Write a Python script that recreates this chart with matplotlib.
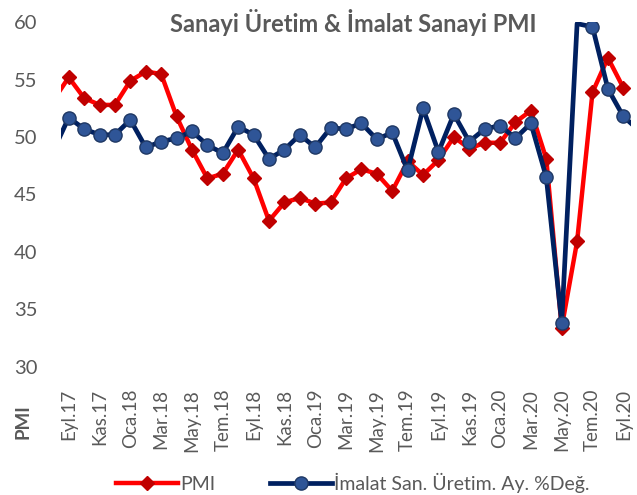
import matplotlib
matplotlib.use("Agg")
import matplotlib.pyplot as plt
import numpy as np

plt.rcParams['font.family'] = ['Lato', 'DejaVu Sans']

# aylar: Ağu.17 (-1) ... Eki.20 (37), eksen Eyl.17 - Eyl.20 arasini gosteriyor
months = ["Ağu.17", "Eyl.17", "Eki.17", "Kas.17", "Ara.17",
          "Oca.18", "Şub.18", "Mar.18", "Nis.18", "May.18", "Haz.18",
          "Tem.18", "Ağu.18", "Eyl.18", "Eki.18", "Kas.18", "Ara.18",
          "Oca.19", "Şub.19", "Mar.19", "Nis.19", "May.19", "Haz.19",
          "Tem.19", "Ağu.19", "Eyl.19", "Eki.19", "Kas.19", "Ara.19",
          "Oca.20", "Şub.20", "Mar.20", "Nis.20", "May.20", "Haz.20",
          "Tem.20", "Ağu.20", "Eyl.20", "Eki.20"]

pmi = [53.2, 55.2, 53.4, 52.8, 52.8, 54.9, 55.7, 55.5, 51.8, 48.9,
       46.4, 46.8, 48.9, 46.4, 42.7, 44.3, 44.7, 44.2, 44.3, 46.4,
       47.2, 46.8, 45.3, 47.9, 46.7, 48.0, 50.0, 49.0, 49.5, 49.5,
       51.3, 52.3, 48.1, 33.4, 40.9, 53.9, 56.9, 54.3]

uretim = [48.8, 51.7, 50.7, 50.2, 50.2, 51.5, 49.1, 49.6, 49.9, 50.5,
          49.3, 48.6, 50.9, 50.2, 48.1, 48.9, 50.2, 49.1, 50.8, 50.7,
          51.2, 49.8, 50.4, 47.1, 52.5, 48.7, 52.0, 49.6, 50.7, 51.0,
          49.9, 51.2, 46.5, 33.8, 65.0, 59.6, 54.2, 51.8, 50.6]

tick_labels = months[1:38:2]

gray = "#595959"
ymax = 60

fig = plt.figure(figsize=(6.37, 4.95), dpi=100)
ax = fig.add_axes([0.0958, 0.2594, 0.8948, 0.6956])

x_pmi = np.arange(-1, len(pmi) - 1)
x_ur = np.arange(-1, len(uretim) - 1)

# Excel gibi: eksen ustundeki deger sinira yapisik cizilir, isaret gosterilmez
ur = np.array(uretim)
ur_line = np.minimum(ur, ymax - 0.12)
inside = [i for i, v in enumerate(ur) if v <= ymax]

ax.plot(x_pmi, pmi, color="#FF0000", lw=3.2, marker="D", ms=7.5,
        mfc="#C00000", mec="#C00000", label="PMI", zorder=2)
ax.plot(x_ur, ur_line, color="#002060", lw=3.4, marker="o", ms=9.5,
        mfc="#2F5597", mec="#1F3864", mew=1, markevery=inside,
        label="İmalat San. Üretim. Ay. %Değ.", zorder=3)

ax.set_xlim(-0.5, 36.5)
ax.set_ylim(30, ymax)
ax.set_yticks([30, 35, 40, 45, 50, 55, 60])
ax.set_xticks(range(0, 37, 2))
ax.set_xticklabels(tick_labels, rotation=90)
ax.tick_params(axis="y", length=0, pad=17, labelsize=14.5, labelcolor=gray)
ax.tick_params(axis="x", length=0, pad=16, labelsize=13.5, labelcolor=gray)
for s in ax.spines.values():
    s.set_visible(False)

fig.text(0.554, 0.955, "Sanayi Üretim & İmalat Sanayi PMI", ha="center",
         va="center", fontsize=17, fontweight="bold", color=gray)
fig.text(0.036, 0.148, "PMI", rotation=90, ha="center", va="center",
         fontsize=13.5, fontweight="bold", color=gray)

fig.legend(loc="center", bbox_to_anchor=(0.554, 0.024), ncol=2, frameon=False,
           fontsize=14, labelcolor=gray, handlelength=3.2, columnspacing=2.8,
           handletextpad=0.1)

fig.savefig("out.png", dpi=100)
